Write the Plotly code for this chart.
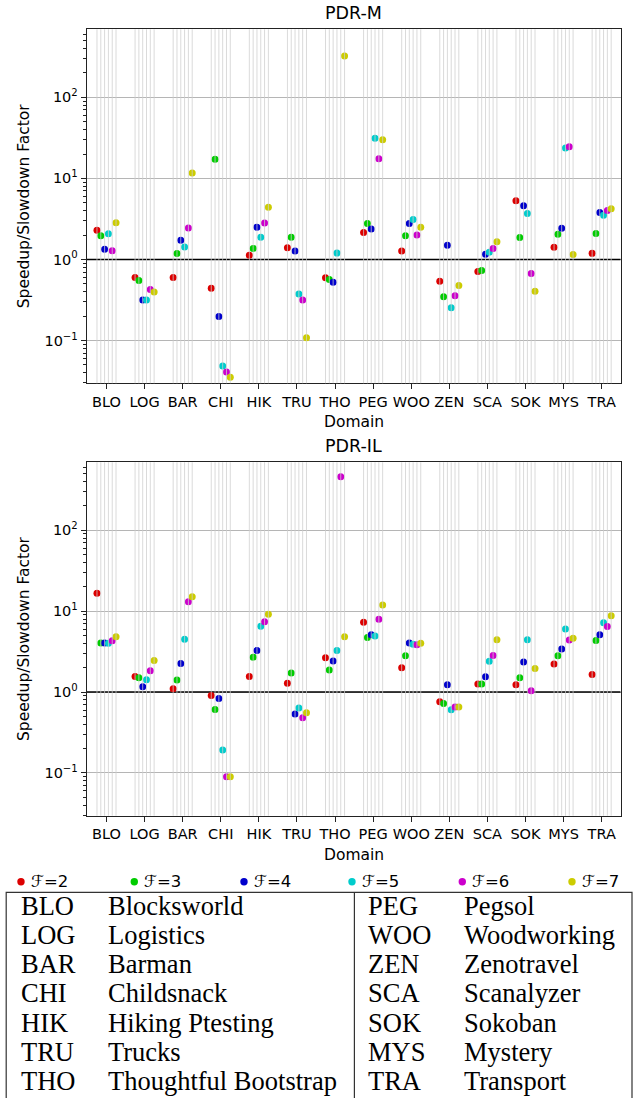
import plotly.graph_objects as go

# ---------------- data ----------------
domains = ["BLO", "LOG", "BAR", "CHI", "HIK", "TRU", "THO",
           "PEG", "WOO", "ZEN", "SCA", "SOK", "MYS", "TRA"]
full_names = ["Blocksworld", "Logistics", "Barman", "Childsnack", "Hiking Ptesting",
              "Trucks", "Thoughtful Bootstrap", "Pegsol", "Woodworking", "Zenotravel",
              "Scanalyzer", "Sokoban", "Mystery", "Transport"]
f_labels = ["ℱ=2", "ℱ=3", "ℱ=4", "ℱ=5", "ℱ=6", "ℱ=7"]
colors = ["#dc0000", "#00cc00", "#0000cc", "#00cccc", "#cc00cc", "#cccc00"]

pdr_m_f2 = [2.30, 0.60, 0.60, 0.442, 1.13, 1.39, 0.593, 2.15, 1.27, 0.54, 0.71, 5.29, 1.41, 1.19]
pdr_m_f3 = [1.96, 0.55, 1.186, 17.3, 1.37, 1.88, 0.566, 2.78, 1.96, 0.346, 0.73, 1.87, 2.05, 2.09]
pdr_m_f4 = [1.34, 0.317, 1.73, 0.198, 2.5, 1.27, 0.525, 2.37, 2.78, 1.5, 1.16, 4.59, 2.43, 3.8]
pdr_m_f5 = [2.07, 0.317, 1.43, 0.0486, 1.88, 0.376, 1.2, 31.4, 3.12, 0.253, 1.23, 3.7, 23.7, 3.52]
pdr_m_f6 = [1.28, 0.426, 2.45, 0.041, 2.81, 0.317, None, 17.5, 2.0, 0.356, 1.37, 0.67, 24.6, 4.03]
pdr_m_f7 = [2.83, 0.398, 11.7, 0.0352, 4.42, 0.108, 323, 30.0, 2.5, 0.477, 1.65, 0.406, 1.15, 4.22]

pdr_il_f2 = [16.7, 1.56, 1.10, 0.908, 1.56, 1.29, 2.65, 7.31, 2.0, 0.76, 1.26, 1.23, 2.23, 1.65]
pdr_il_f3 = [4.03, 1.5, 1.41, 0.61, 2.7, 1.72, 1.87, 4.72, 2.81, 0.723, 1.26, 1.5, 2.81, 4.34]
pdr_il_f4 = [4.05, 1.16, 2.25, 0.834, 3.26, 0.535, 2.43, 5.1, 4.03, 1.23, 1.55, 2.35, 3.4, 5.1]
pdr_il_f5 = [4.0, 1.42, 4.5, 0.192, 6.53, 0.634, 3.26, 4.95, 3.9, 0.604, 2.41, 4.42, 6.04, 7.17]
pdr_il_f6 = [4.3, 1.83, 13.1, 0.09, 7.38, 0.482, 459, 7.96, 3.85, 0.653, 2.83, 1.04, 4.39, 6.46]
pdr_il_f7 = [4.82, 2.46, 15.1, 0.09, 9.18, 0.555, 4.82, 11.9, 4.0, 0.653, 4.42, 1.96, 4.64, 8.75]

pdr_m = [pdr_m_f2, pdr_m_f3, pdr_m_f4, pdr_m_f5, pdr_m_f6, pdr_m_f7]
pdr_il = [pdr_il_f2, pdr_il_f3, pdr_il_f4, pdr_il_f5, pdr_il_f6, pdr_il_f7]
titles = ["PDR-M", "PDR-IL"]

y_tickvals = [0.1, 1, 10, 100]
y_ticktext = ["10<sup>−1</sup>", "10<sup>0</sup>", "10<sup>1</sup>", "10<sup>2</sup>"]

# ---------------- layout helpers ----------------
W, H = 638, 1098
def px(x):
    return x / W
def py(y):
    return 1 - y / H

XMIN, XMAX = -0.52, 13.5
YRANGE = [-1.528, 2.840]
offsets = [(k - 2.5) * 0.1 for k in range(6)]
SANS = "DejaVu Sans"
SERIF = "Liberation Serif"

axes_px = [(29.3, 383.3), (462.3, 815.7)]  # top, bottom pixel rows of each plot
x_dom = [px(86.7), px(620.7)]

fig = go.Figure()
shapes = []
annotations = []

for p, (series, title) in enumerate(zip([pdr_m, pdr_il], titles)):
    xa = "x" if p == 0 else "x2"
    ya = "y" if p == 0 else "y2"
    # reference line at 1
    fig.add_trace(go.Scatter(x=[XMIN, XMAX], y=[1, 1], mode="lines",
                             line=dict(color="black", width=1.5),
                             xaxis=xa, yaxis=ya, showlegend=False, hoverinfo="skip"))
    for k, vals in enumerate(series):
        xs = [i + offsets[k] for i in range(len(domains))]
        fig.add_trace(go.Scatter(x=xs, y=vals, mode="markers", name=f_labels[k],
                                 marker=dict(color=colors[k], size=7, line=dict(width=0)),
                                 xaxis=xa, yaxis=ya, showlegend=False))
        for x in xs:
            shapes.append(dict(type="line", xref=xa, yref=ya + " domain",
                               x0=x, x1=x, y0=0, y1=1, layer="above",
                               line=dict(color="rgba(205,205,205,0.75)", width=1)))
    top, bot = axes_px[p]
    annotations.append(dict(text=title, x=0.5 * (x_dom[0] + x_dom[1]), y=py(top - 16.5),
                            xref="paper", yref="paper", showarrow=False,
                            xanchor="center", yanchor="middle",
                            font=dict(family=SANS, size=17.5, color="black")))
    annotations.append(dict(text="Domain", x=0.5 * (x_dom[0] + x_dom[1]), y=py(bot + 39),
                            xref="paper", yref="paper", showarrow=False,
                            xanchor="center", yanchor="middle",
                            font=dict(family=SANS, size=15.5, color="black")))
    annotations.append(dict(text="Speedup/Slowdown Factor", x=px(24), y=py(0.5 * (top + bot)),
                            xref="paper", yref="paper", showarrow=False, textangle=-90,
                            xanchor="center", yanchor="middle",
                            font=dict(family=SANS, size=15.5, color="black")))

    axis_common = dict(showline=True, linecolor="#222", linewidth=1, mirror=True)
    xaxis = dict(domain=x_dom, range=[XMIN, XMAX], tickmode="array",
                 tickvals=list(range(len(domains))), ticktext=domains,
                 ticks="outside", ticklen=5, tickcolor="#222", showgrid=False, zeroline=False,
                 tickfont=dict(family=SANS, size=14.5, color="black"),
                 anchor=ya, **axis_common)
    minor_vals = [m * 10 ** e for e in range(-2, 3) for m in range(2, 10)]
    yaxis = dict(domain=[py(bot), py(top)], type="log", range=YRANGE,
                 tickmode="array", tickvals=y_tickvals, ticktext=y_ticktext,
                 ticks="outside", ticklen=5, tickcolor="#222",
                 showgrid=True, gridcolor="#b5b5b5", gridwidth=1, zeroline=False,
                 minor=dict(tickmode="array", tickvals=minor_vals, ticks="outside",
                            ticklen=2.5, tickcolor="#222", showgrid=False),
                 tickfont=dict(family=SANS, size=14.5, color="black"),
                 anchor=xa, **axis_common)
    if p == 0:
        fig.update_layout(xaxis=xaxis, yaxis=yaxis)
    else:
        fig.update_layout(xaxis2=xaxis, yaxis2=yaxis)

# ---------------- legend (F values) ----------------
legend_x = [21, 134.3, 244, 352, 462.3, 572]
legend_y = 881.7
r = 3.7
for k in range(6):
    shapes.append(dict(type="circle", xref="paper", yref="paper",
                       x0=px(legend_x[k] - r), x1=px(legend_x[k] + r),
                       y0=py(legend_y + r), y1=py(legend_y - r),
                       fillcolor=colors[k], line=dict(width=0)))
    annotations.append(dict(text=f_labels[k], x=px(legend_x[k] + 8), y=py(legend_y),
                            xref="paper", yref="paper", showarrow=False,
                            xanchor="left", yanchor="middle",
                            font=dict(family=SANS, size=16.5, color="black")))

# ---------------- abbreviation table ----------------
box_top = 892.3
shapes.append(dict(type="rect", xref="paper", yref="paper",
                   x0=px(6.2), x1=px(632), y0=py(1110), y1=py(box_top),
                   line=dict(color="#333", width=1.2), fillcolor="rgba(0,0,0,0)"))
shapes.append(dict(type="line", xref="paper", yref="paper",
                   x0=px(354.4), x1=px(354.4), y0=py(1110), y1=py(box_top),
                   line=dict(color="#333", width=1.2)))
row_y0, row_dy = 905.5, 29.3
col_x = [(18.5, 106), (366, 461.5)]
for i, (ab, name) in enumerate(zip(domains, full_names)):
    c = 0 if i < 7 else 1
    r_i = i % 7
    yy = py(row_y0 + r_i * row_dy)
    annotations.append(dict(text=ab, x=px(col_x[c][0]), y=yy, xref="paper", yref="paper",
                            showarrow=False, xanchor="left", yanchor="middle",
                            font=dict(family=SERIF, size=26.5, color="black")))
    annotations.append(dict(text=name, x=px(col_x[c][1]), y=yy, xref="paper", yref="paper",
                            showarrow=False, xanchor="left", yanchor="middle",
                            font=dict(family=SERIF, size=26.5, color="black")))

fig.update_layout(width=W, height=H, margin=dict(l=0, r=0, t=0, b=0),
                  paper_bgcolor="white", plot_bgcolor="white",
                  shapes=shapes, annotations=annotations, showlegend=False,
                  font=dict(family=SANS, color="black"))

fig.write_html("out.html", config={"displayModeBar": False},
               post_script="document.body.style.margin='0';document.body.style.padding='0';")
